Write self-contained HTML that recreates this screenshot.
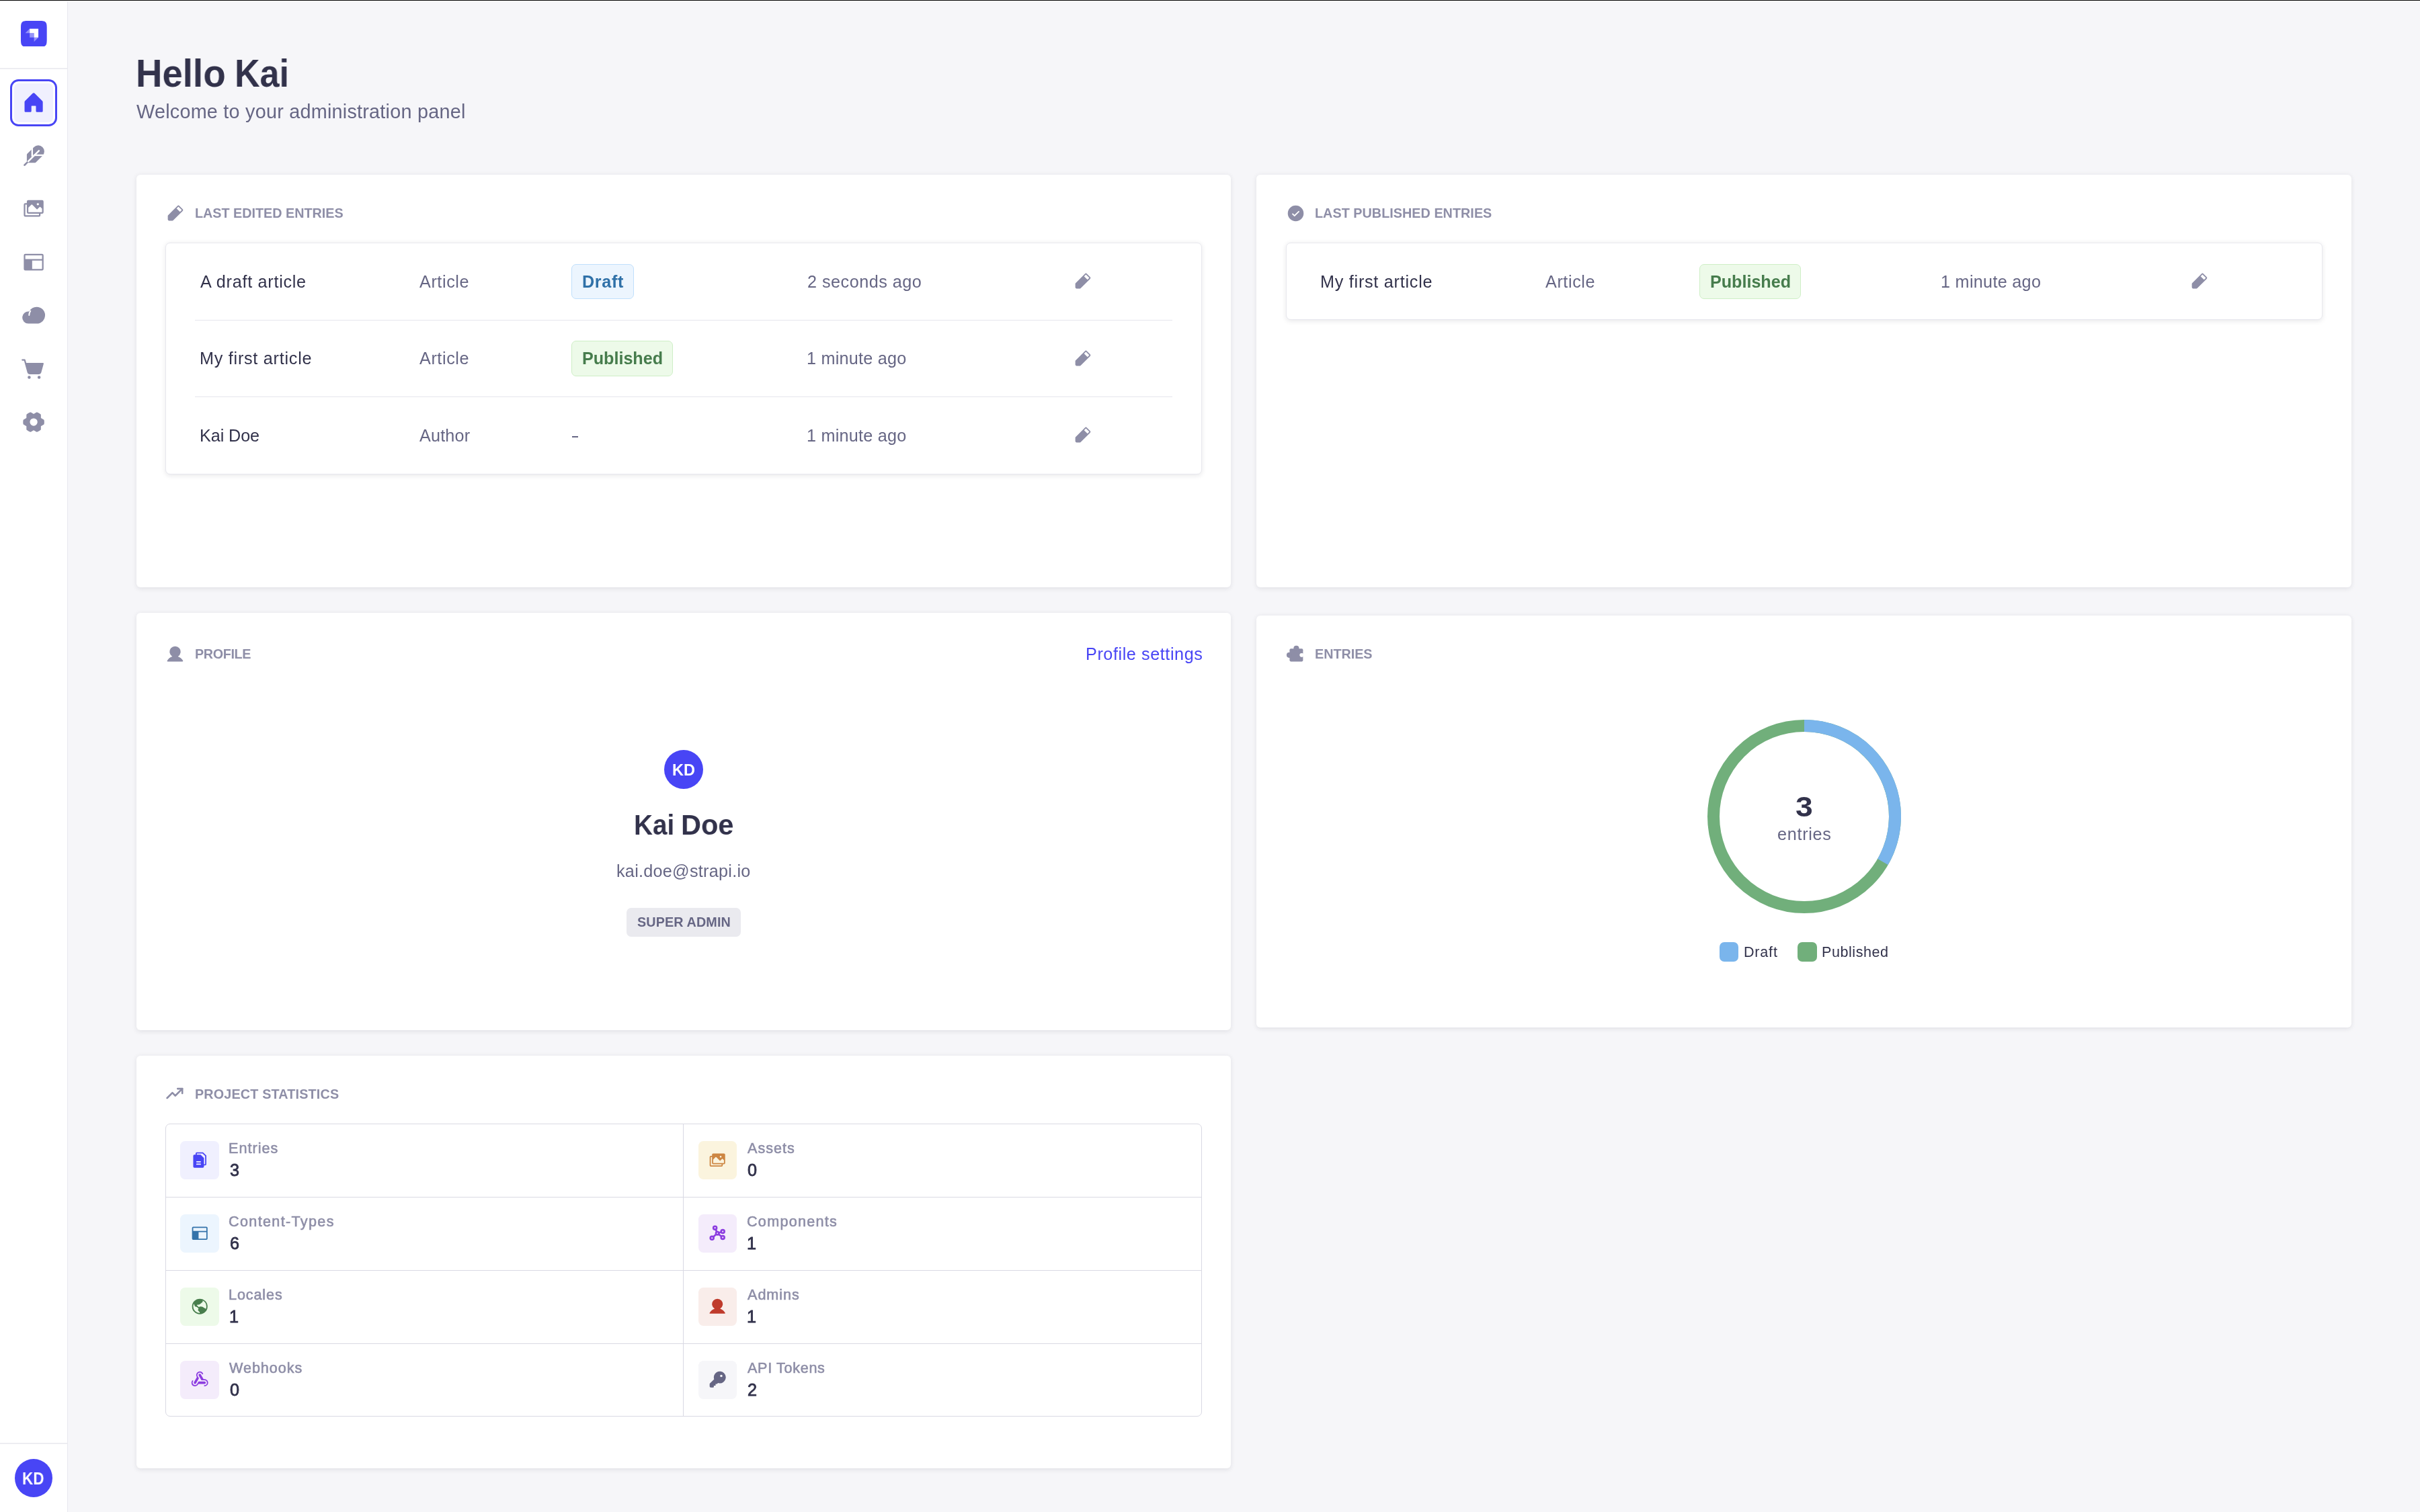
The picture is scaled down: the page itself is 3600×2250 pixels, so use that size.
<!DOCTYPE html>
<html><head><meta charset="utf-8"><title>Strapi Admin</title>
<style>
html,body{margin:0;padding:0}
body{width:3600px;height:2250px;overflow:hidden;background:#f6f6f9;position:relative;font-family:"Liberation Sans", sans-serif;}
.b{position:absolute;box-sizing:border-box;display:block}
.t{position:absolute;white-space:nowrap;line-height:1;font-family:"Liberation Sans", sans-serif;will-change:transform;-webkit-font-smoothing:antialiased;}
.card{background:#fff;border-radius:6px;box-shadow:0 1.8px 7.2px rgba(33,33,52,0.10)}
</style></head><body>
<div class="b" style="left:0.00px;top:0.00px;width:3600.00px;height:1.00px;background:#000;z-index:5"></div>
<div class="b" style="left:0.00px;top:1.00px;width:3600.00px;height:1.00px;background:#fff;z-index:5"></div>
<div class="b" style="left:0.00px;top:0.00px;width:100.00px;height:2250.00px;background:#fff"></div>
<div class="b" style="left:100.00px;top:0.00px;width:1.00px;height:2250.00px;background:#e9e9ef"></div>
<div class="b" style="left:0.00px;top:101.00px;width:100.00px;height:2.00px;background:#ededf2"></div>
<div class="b" style="left:0.00px;top:2147.00px;width:100.00px;height:2.00px;background:#ededf2"></div>
<svg class="b" style="left:31.10px;top:30.60px;width:38.70px;height:38.80px" viewBox="0 0 800 800" preserveAspectRatio="none"><path d="M0 277.3c0-130.7 0-196 40.6-236.700C81.200 0 146.600 0 277.300 0h245.400c130.700 0 196 0 236.700 40.600C800 81.200 800 146.600 800 277.300v245.400c0 130.700 0 196-40.600 236.700C718.800 800 653.400 800 522.700 800H277.300c-130.700 0-196 0-236.700-40.600C0 718.800 0 653.400 0 522.700z" fill="#4845f5"/>
<path d="M536 243H272.300v133.300h133.300V509.600H539V246c0-1.700-1.300-3-3-3z" fill="#fff"/>
<path d="M272 376.300h128c3.100 0 5.600 2.500 5.600 5.600v127.700H277.600c-3.100 0-5.600-2.500-5.600-5.600V376.300z" fill="#fff" opacity=".42"/>
<path d="M405.600 509.600H539L410.300 638.300c-1.800 1.800-4.700.5-4.700-2V509.600z" fill="#fff" opacity=".42"/>
<path d="M272 376.300H143.300c-2.500 0-3.800-3-2-4.700L272 243v133.300z" fill="#fff" opacity=".42"/></svg>
<div class="b" style="left:15.00px;top:118.00px;width:70.00px;height:70.00px;border:3px solid #4845f5;border-radius:12.5px;background:#fff"></div>
<div class="b" style="left:21.00px;top:124.00px;width:58.00px;height:58.00px;background:#f0f0fe;border-radius:7px"></div>
<svg class="b" style="left:31.80px;top:134.50px;width:36.20px;height:36.20px" viewBox="0 0 256 256" preserveAspectRatio="none"><path d="M224,120v96a8,8,0,0,1-8,8H160a8,8,0,0,1-8-8V164a4,4,0,0,0-4-4H108a4,4,0,0,0-4,4v52a8,8,0,0,1-8,8H40a8,8,0,0,1-8-8V120a16,16,0,0,1,4.69-11.31l80-80a16,16,0,0,1,22.62,0l80,80A16,16,0,0,1,224,120Z" fill="#4845f5"/></svg>
<svg class="b" style="left:32.10px;top:213.50px;width:36.20px;height:36.20px" viewBox="0 0 256 256" preserveAspectRatio="none"><path d="M221.28,34.75a64,64,0,0,0-90.49,0L60.69,104A15.9,15.9,0,0,0,56,115.31v73.38L26.34,218.34a8,8,0,0,0,11.32,11.32L67.32,200H140.7A15.92,15.92,0,0,0,152,195.32l0,0,69.23-70A64,64,0,0,0,221.28,34.75Z" fill="#8e8ea7"/><g stroke="#fff" stroke-width="17" fill="none"><path d="M112,36V134"/><path d="M126,120H240"/><path d="M183,73L62,194" stroke-linecap="round"/></g><path d="M26.340,218.340a8,8,0,0,0,11.320,11.320L72,195.300 60.700,184Z" fill="#8e8ea7"/></svg>
<svg class="b" style="left:31.80px;top:292.40px;width:36.20px;height:36.20px" viewBox="0 0 256 256" preserveAspectRatio="none"><path d="M216,40H72A16,16,0,0,0,56,56V72H40A16,16,0,0,0,24,88V200a16,16,0,0,0,16,16H184a16,16,0,0,0,16-16V184h16a16,16,0,0,0,16-16V56A16,16,0,0,0,216,40ZM172,72a12,12,0,1,1-12,12A12,12,0,0,1,172,72Zm12,128H40V88H56v80a16,16,0,0,0,16,16H184Zm32-32H72V120.69l30.34-30.35a8,8,0,0,1,11.32,0L163.31,140,189,114.34a8,8,0,0,1,11.31,0L216,130.07V168Z" fill="#8e8ea7"/></svg>
<svg class="b" style="left:31.80px;top:372.40px;width:36.20px;height:36.20px" viewBox="0 0 256 256" preserveAspectRatio="none"><path d="M216,40H40A16,16,0,0,0,24,56V200a16,16,0,0,0,16,16H216a16,16,0,0,0,16-16V56A16,16,0,0,0,216,40Zm0,160H112V112H216Zm0-104H40V56H216Z" fill="#8e8ea7"/></svg>
<svg class="b" style="left:31.90px;top:451.30px;width:36.20px;height:36.20px" viewBox="0 0 256 256" preserveAspectRatio="none"><path d="M160.060,40A88.100,88.100,0,0,0,81.290,88.680,64,64,0,1,0,72,216h88a88,88,0,0,0,.06-176Z" fill="#8e8ea7"/><path d="M93.700,83.300 A80,80 0 0 0 80,128" stroke="#fff" stroke-width="14" stroke-linecap="round" fill="none"/></svg>
<svg class="b" style="left:30.90px;top:530.80px;width:36.20px;height:36.20px" viewBox="0 0 256 256" preserveAspectRatio="none"><path d="M239.71,74.14l-25.64,92.28A24.06,24.06,0,0,1,191,184H92.16A24.06,24.06,0,0,1,69,166.42L33.92,40H16a8,8,0,0,1,0-16H40a8,8,0,0,1,7.71,5.86L57.19,64H232a8,8,0,0,1,7.71,10.14ZM88,200a16,16,0,1,0,16,16A16,16,0,0,0,88,200Zm104,0a16,16,0,1,0,16,16A16,16,0,0,0,192,200Z" fill="#8e8ea7"/></svg>
<svg class="b" style="left:31.90px;top:609.80px;width:36.20px;height:36.20px" viewBox="0 0 256 256" preserveAspectRatio="none"><path d="M237.94,107.21a8,8,0,0,0-3.89-5.4l-29.83-17-.12-33.62a8,8,0,0,0-2.83-6.08,111.91,111.91,0,0,0-36.72-20.67,8,8,0,0,0-6.46.59L128,41.85,97.88,25a8,8,0,0,0-6.47-.6A111.920,111.920,0,0,0,54.730,45.150a8,8,0,0,0-2.830,6.070l-.150,33.650-29.830,17a8,8,0,0,0-3.890,5.400,106.470,106.470,0,0,0,0,41.560,8,8,0,0,0,3.890,5.400l29.830,17,.120,33.630a8,8,0,0,0,2.830,6.080,111.910,111.910,0,0,0,36.720,20.670,8,8,0,0,0,6.460-.590L128,214.150,158.120,231a7.910,7.910,0,0,0,3.900,1,8.090,8.090,0,0,0,2.570-.420,112.100,112.100,0,0,0,36.680-20.730,8,8,0,0,0,2.830-6.070l.150-33.650,29.830-17a8,8,0,0,0,3.890-5.400A106.470,106.470,0,0,0,237.940,107.210ZM128,168a40,40,0,1,1,40-40A40,40,0,0,1,128,168Z" fill="#8e8ea7"/></svg>
<div class="b" style="left:22.00px;top:2171.00px;width:56.00px;height:57.00px;background:#4845f5;border-radius:50%"></div>
<span class="t" id="kd1" style="left:33.46px;top:2188.00px;font-size:25.2px;color:#fff;font-weight:700;letter-spacing:0.000px;transform-origin:0 0;transform:scaleX(0.8923);">KD</span>
<span class="t" id="h1a" style="left:202.10px;top:81.00px;font-size:57.6px;color:#32324b;font-weight:700;letter-spacing:0.000px;transform-origin:0 0;transform:scaleX(0.9489);">Hello</span>
<span class="t" id="h1b" style="left:349.04px;top:81.00px;font-size:57.6px;color:#32324b;font-weight:700;letter-spacing:0.000px;transform-origin:0 0;transform:scaleX(0.9041);">Kai</span>
<span class="t" id="sub" style="left:202.95px;top:152.00px;font-size:28.8px;color:#666684;font-weight:400;letter-spacing:0.230px;">Welcome to your administration panel</span>
<div class="b card" style="left:203px;top:260px;width:1628px;height:614px"></div>
<div class="b card" style="left:1869px;top:260px;width:1629px;height:614px"></div>
<div class="b card" style="left:203px;top:912px;width:1628px;height:621px"></div>
<div class="b card" style="left:1869px;top:916px;width:1629px;height:613px"></div>
<div class="b card" style="left:203px;top:1571px;width:1628px;height:614px"></div>
<svg class="b" style="left:245.70px;top:302.90px;width:29.00px;height:29.00px" viewBox="0 0 256 256" preserveAspectRatio="none"><path d="M227.31,73.37,182.63,28.68a16,16,0,0,0-22.63,0L36.69,152A15.86,15.86,0,0,0,32,163.31V208a16,16,0,0,0,16,16H92.69A15.86,15.86,0,0,0,104,219.31L227.31,96a16,16,0,0,0,0-22.63ZM192,108.68,147.31,64l24-24L216,84.68Z" fill="#8e8ea7"/></svg>
<span class="t" id="hA" style="left:290.15px;top:308.00px;font-size:19.8px;color:#8e8ea7;font-weight:700;letter-spacing:-0.012px;">LAST EDITED ENTRIES</span>
<svg class="b" style="left:1912.80px;top:302.80px;width:29.00px;height:29.00px" viewBox="0 0 256 256" preserveAspectRatio="none"><path d="M128,24A104,104,0,1,0,232,128,104.11,104.11,0,0,0,128,24Zm45.66,85.66-56,56a8,8,0,0,1-11.32,0l-24-24a8,8,0,0,1,11.32-11.32L112,148.69l50.34-50.35a8,8,0,0,1,11.32,11.32Z" fill="#8e8ea7"/></svg>
<span class="t" id="hB" style="left:1956.35px;top:308.00px;font-size:19.8px;color:#8e8ea7;font-weight:700;letter-spacing:0.030px;">LAST PUBLISHED ENTRIES</span>
<svg class="b" style="left:245.90px;top:958.85px;width:29.00px;height:29.00px" viewBox="0 0 256 256" preserveAspectRatio="none"><path d="M230.93,220a8,8,0,0,1-6.93,4H32a8,8,0,0,1-6.92-12c15.23-26.33,38.7-45.21,66.09-54.16a72,72,0,1,1,73.66,0c27.39,8.95,50.86,27.83,66.09,54.16A8,8,0,0,1,230.93,220Z" fill="#8e8ea7"/></svg>
<span class="t" id="hC" style="left:290.15px;top:964.00px;font-size:19.8px;color:#8e8ea7;font-weight:700;letter-spacing:-0.371px;">PROFILE</span>
<span class="t" id="ps" style="left:1614.65px;top:961.00px;font-size:25.2px;color:#4845f5;font-weight:400;letter-spacing:0.580px;">Profile settings</span>
<svg class="b" style="left:1913.20px;top:959.00px;width:29.00px;height:29.00px" viewBox="0 0 256 256" preserveAspectRatio="none"><path d="M64,56H208a16,16,0,0,1,16,16V208a16,16,0,0,1-16,16H64a16,16,0,0,1-16-16V72A16,16,0,0,1,64,56Z" fill="#8e8ea7"/><circle cx="136" cy="52" r="36" fill="#8e8ea7"/><circle cx="44" cy="140" r="36" fill="#8e8ea7"/><ellipse cx="204" cy="140" rx="24.500" ry="25" fill="#fff"/><rect x="206" y="117.500" width="20" height="45" fill="#fff"/></svg>
<span class="t" id="hD" style="left:1955.75px;top:964.00px;font-size:19.8px;color:#8e8ea7;font-weight:700;letter-spacing:-0.040px;">ENTRIES</span>
<svg class="b" style="left:245.95px;top:1614.40px;width:27.80px;height:27.80px" viewBox="0 0 256 256" preserveAspectRatio="none"><polyline points="232,56 136,152 96,112 24,184" fill="none" stroke="#8e8ea7" stroke-width="24" stroke-linecap="round" stroke-linejoin="round"/><polyline points="232,120 232,56 168,56" fill="none" stroke="#8e8ea7" stroke-width="24" stroke-linecap="round" stroke-linejoin="round"/></svg>
<span class="t" id="hE" style="left:290.15px;top:1619.00px;font-size:19.8px;color:#8e8ea7;font-weight:700;letter-spacing:0.160px;">PROJECT STATISTICS</span>
<div class="b" style="left:246.00px;top:361.00px;width:1542.00px;height:345.00px;background:#fff;border:1px solid #e8e8ee;border-radius:7px;box-shadow:0 1.8px 7.2px rgba(33,33,52,0.10)"></div>
<div class="b" style="left:1913.00px;top:361.00px;width:1542.00px;height:115.00px;background:#fff;border:1px solid #e8e8ee;border-radius:7px;box-shadow:0 1.8px 7.2px rgba(33,33,52,0.10)"></div>
<div class="b" style="left:290.00px;top:476.00px;width:1454.00px;height:1.00px;background:#e6e6ed"></div>
<div class="b" style="left:290.00px;top:590.00px;width:1454.00px;height:1.00px;background:#e6e6ed"></div>
<span class="t" id="a01" style="left:297.75px;top:407.00px;font-size:25.2px;color:#32324b;font-weight:400;letter-spacing:0.723px;">A draft article</span>
<span class="t" id="a02" style="left:624.15px;top:407.00px;font-size:25.2px;color:#666684;font-weight:400;letter-spacing:0.588px;">Article</span>
<div class="b" style="left:850.20px;top:393.00px;width:92.50px;height:52.00px;background:#ecf5fe;border:1.5px solid #c0e0fc;border-radius:7px"></div>
<span class="t" id="a0bd" style="left:866.15px;top:407.00px;font-size:25.2px;color:#3071a8;font-weight:700;letter-spacing:0.678px;">Draft</span>
<span class="t" id="a03" style="left:1200.55px;top:407.00px;font-size:25.2px;color:#666684;font-weight:400;letter-spacing:0.489px;">2 seconds ago</span>
<svg class="b" style="left:1595.75px;top:403.65px;width:29.00px;height:29.00px" viewBox="0 0 256 256" preserveAspectRatio="none"><path d="M227.31,73.37,182.63,28.68a16,16,0,0,0-22.63,0L36.69,152A15.86,15.86,0,0,0,32,163.31V208a16,16,0,0,0,16,16H92.69A15.86,15.86,0,0,0,104,219.31L227.31,96a16,16,0,0,0,0-22.63ZM192,108.68,147.31,64l24-24L216,84.68Z" fill="#8e8ea7"/></svg>
<span class="t" id="a11" style="left:297.35px;top:521.00px;font-size:25.2px;color:#32324b;font-weight:400;letter-spacing:0.745px;">My first article</span>
<span class="t" id="a12" style="left:624.15px;top:521.00px;font-size:25.2px;color:#666684;font-weight:400;letter-spacing:0.588px;">Article</span>
<div class="b" style="left:850.20px;top:507.00px;width:150.60px;height:53.00px;background:#edfae9;border:1.5px solid #ceefc6;border-radius:7px"></div>
<span class="t" id="a1bp" style="left:866.15px;top:521.00px;font-size:25.2px;color:#467c4c;font-weight:700;letter-spacing:-0.034px;">Published</span>
<span class="t" id="a13" style="left:1199.55px;top:521.00px;font-size:25.2px;color:#666684;font-weight:400;letter-spacing:0.244px;">1 minute ago</span>
<svg class="b" style="left:1595.75px;top:518.65px;width:29.00px;height:29.00px" viewBox="0 0 256 256" preserveAspectRatio="none"><path d="M227.31,73.37,182.63,28.68a16,16,0,0,0-22.63,0L36.69,152A15.86,15.86,0,0,0,32,163.31V208a16,16,0,0,0,16,16H92.69A15.86,15.86,0,0,0,104,219.31L227.31,96a16,16,0,0,0,0-22.63ZM192,108.68,147.31,64l24-24L216,84.68Z" fill="#8e8ea7"/></svg>
<span class="t" id="a21" style="left:297.35px;top:636.00px;font-size:25.2px;color:#32324b;font-weight:400;letter-spacing:-0.083px;">Kai Doe</span>
<span class="t" id="a22" style="left:624.15px;top:636.00px;font-size:25.2px;color:#666684;font-weight:400;letter-spacing:0.176px;">Author</span>
<div class="b" style="left:851.40px;top:649.20px;width:9.00px;height:2.00px;background:#666684"></div>
<span class="t" id="a23" style="left:1199.55px;top:636.00px;font-size:25.2px;color:#666684;font-weight:400;letter-spacing:0.244px;">1 minute ago</span>
<svg class="b" style="left:1595.75px;top:633.35px;width:29.00px;height:29.00px" viewBox="0 0 256 256" preserveAspectRatio="none"><path d="M227.31,73.37,182.63,28.68a16,16,0,0,0-22.63,0L36.69,152A15.86,15.86,0,0,0,32,163.31V208a16,16,0,0,0,16,16H92.69A15.86,15.86,0,0,0,104,219.31L227.31,96a16,16,0,0,0,0-22.63ZM192,108.68,147.31,64l24-24L216,84.68Z" fill="#8e8ea7"/></svg>
<span class="t" id="b01" style="left:1964.15px;top:407.00px;font-size:25.2px;color:#32324b;font-weight:400;letter-spacing:0.745px;">My first article</span>
<span class="t" id="b02" style="left:2299.35px;top:407.00px;font-size:25.2px;color:#666684;font-weight:400;letter-spacing:0.588px;">Article</span>
<div class="b" style="left:2528.30px;top:393.00px;width:150.60px;height:52.00px;background:#edfae9;border:1.5px solid #ceefc6;border-radius:7px"></div>
<span class="t" id="b0bp" style="left:2543.55px;top:407.00px;font-size:25.2px;color:#467c4c;font-weight:700;letter-spacing:-0.034px;">Published</span>
<span class="t" id="b03" style="left:2886.95px;top:407.00px;font-size:25.2px;color:#666684;font-weight:400;letter-spacing:0.298px;">1 minute ago</span>
<svg class="b" style="left:3256.70px;top:403.65px;width:29.00px;height:29.00px" viewBox="0 0 256 256" preserveAspectRatio="none"><path d="M227.31,73.37,182.63,28.68a16,16,0,0,0-22.63,0L36.69,152A15.86,15.86,0,0,0,32,163.31V208a16,16,0,0,0,16,16H92.69A15.86,15.86,0,0,0,104,219.31L227.31,96a16,16,0,0,0,0-22.63ZM192,108.68,147.31,64l24-24L216,84.68Z" fill="#8e8ea7"/></svg>
<div class="b" style="left:988.00px;top:1115.70px;width:58.20px;height:58.30px;background:#4845f5;border-radius:50%"></div>
<span class="t" id="kd2" style="left:999.99px;top:1135.00px;font-size:23.4px;color:#fff;font-weight:700;letter-spacing:0.000px;transform-origin:0 0;transform:scaleX(1.0065);">KD</span>
<span class="t" id="nm1" style="left:942.76px;top:1206.00px;font-size:43.2px;color:#32324b;font-weight:700;letter-spacing:0.000px;transform-origin:0 0;transform:scaleX(0.8955);">Kai</span>
<span class="t" id="nm2" style="left:1013.03px;top:1206.00px;font-size:43.2px;color:#32324b;font-weight:700;letter-spacing:0.000px;transform-origin:0 0;transform:scaleX(0.9612);">Doe</span>
<span class="t" id="mail" style="left:916.90px;top:1284.00px;font-size:25.2px;color:#666684;font-weight:400;letter-spacing:0.270px;">kai.doe@strapi.io</span>
<div class="b" style="left:932.00px;top:1350.80px;width:170.00px;height:43.20px;background:#eaeaef;border-radius:7px"></div>
<span class="t" id="sa" style="left:947.65px;top:1363.00px;font-size:19.8px;color:#666684;font-weight:700;letter-spacing:0.111px;">SUPER ADMIN</span>
<svg class="b" style="left:2540.00px;top:1071.00px;width:288.00px;height:288.00px" viewBox="0 0 288 288" preserveAspectRatio="none"><circle cx="144" cy="144" r="135" fill="none" stroke="#71af7b" stroke-width="18"/>
<path d="M144 9 A135 135 0 0 1 260.913 211.5" fill="none" stroke="#7ab5ec" stroke-width="18"/></svg>
<span class="t" id="d3" style="left:2670.74px;top:1179.00px;font-size:43.2px;color:#32324b;font-weight:700;letter-spacing:0.000px;transform-origin:0 0;transform:scaleX(1.0708);">3</span>
<span class="t" id="dent" style="left:2643.65px;top:1229.00px;font-size:25.2px;color:#666684;font-weight:400;letter-spacing:0.716px;">entries</span>
<div class="b" style="left:2558.00px;top:1402.00px;width:28.00px;height:29.00px;background:#7ab5ec;border-radius:7px"></div>
<span class="t" id="lg1" style="left:2593.55px;top:1406.00px;font-size:21.6px;color:#32324b;font-weight:400;letter-spacing:0.776px;">Draft</span>
<div class="b" style="left:2674.00px;top:1402.00px;width:29.00px;height:29.00px;background:#71af7b;border-radius:7px"></div>
<span class="t" id="lg2" style="left:2710.15px;top:1406.00px;font-size:21.6px;color:#32324b;font-weight:400;letter-spacing:0.533px;">Published</span>
<div class="b" style="left:246.00px;top:1672.00px;width:1542.00px;height:436.00px;background:#fff;border:1px solid #d9d9e3;border-radius:7px"></div>
<div class="b" style="left:247.00px;top:1781.00px;width:1540.00px;height:1.00px;background:#d9d9e3"></div>
<div class="b" style="left:247.00px;top:1890.00px;width:1540.00px;height:1.00px;background:#d9d9e3"></div>
<div class="b" style="left:247.00px;top:1999.00px;width:1540.00px;height:1.00px;background:#d9d9e3"></div>
<div class="b" style="left:1016.00px;top:1673.00px;width:1.00px;height:434.00px;background:#d9d9e3"></div>
<div class="b" style="left:268.10px;top:1698.00px;width:57.80px;height:57.20px;background:#f0f0fe;border-radius:7.5px"></div>
<svg class="b" style="left:282.80px;top:1712.40px;width:28.40px;height:28.40px" viewBox="0 0 256 256" preserveAspectRatio="none"><path d="M213.66,66.34l-40-40A8,8,0,0,0,168,24H88A16,16,0,0,0,72,40V56H56A16,16,0,0,0,40,72V216a16,16,0,0,0,16,16H168a16,16,0,0,0,16-16V200h16a16,16,0,0,0,16-16V72A8,8,0,0,0,213.66,66.34ZM136,192H88a8,8,0,0,1,0-16h48a8,8,0,0,1,0,16Zm0-32H88a8,8,0,0,1,0-16h48a8,8,0,0,1,0,16Zm64,24H184V104a8,8,0,0,0-2.34-5.66l-40-40A8,8,0,0,0,136,56H88V40h76.69L200,75.31Z" fill="#4845f5"/></svg>
<span class="t" id="s0l" style="left:340.35px;top:1698.00px;font-size:21.6px;color:#8e8ea7;font-weight:400;letter-spacing:1.015px;-webkit-text-stroke:0.6px #8e8ea7;">Entries</span>
<span class="t" id="s0v" style="left:342.35px;top:1729.00px;font-size:25.2px;color:#32324b;font-weight:400;letter-spacing:0.000px;-webkit-text-stroke:0.85px #32324b;">3</span>
<div class="b" style="left:1039.20px;top:1698.00px;width:56.60px;height:57.20px;background:#fbf4de;border-radius:7.5px"></div>
<svg class="b" style="left:1053.30px;top:1712.40px;width:28.40px;height:28.40px" viewBox="0 0 256 256" preserveAspectRatio="none"><path d="M216,40H72A16,16,0,0,0,56,56V72H40A16,16,0,0,0,24,88V200a16,16,0,0,0,16,16H184a16,16,0,0,0,16-16V184h16a16,16,0,0,0,16-16V56A16,16,0,0,0,216,40ZM172,72a12,12,0,1,1-12,12A12,12,0,0,1,172,72Zm12,128H40V88H56v80a16,16,0,0,0,16,16H184Zm32-32H72V120.69l30.34-30.35a8,8,0,0,1,11.32,0L163.31,140,189,114.34a8,8,0,0,1,11.31,0L216,130.07V168Z" fill="#cd8642"/></svg>
<span class="t" id="s1l" style="left:1112.15px;top:1698.00px;font-size:21.6px;color:#8e8ea7;font-weight:400;letter-spacing:0.979px;-webkit-text-stroke:0.6px #8e8ea7;">Assets</span>
<span class="t" id="s1v" style="left:1112.15px;top:1729.00px;font-size:25.2px;color:#32324b;font-weight:400;letter-spacing:0.000px;-webkit-text-stroke:0.85px #32324b;">0</span>
<div class="b" style="left:268.10px;top:1806.85px;width:57.80px;height:57.20px;background:#ecf5fe;border-radius:7.5px"></div>
<svg class="b" style="left:282.80px;top:1821.25px;width:28.40px;height:28.40px" viewBox="0 0 256 256" preserveAspectRatio="none"><path d="M216,40H40A16,16,0,0,0,24,56V200a16,16,0,0,0,16,16H216a16,16,0,0,0,16-16V56A16,16,0,0,0,216,40Zm0,160H112V112H216Zm0-104H40V56H216Z" fill="#3473aa"/></svg>
<span class="t" id="s2l" style="left:340.35px;top:1807.00px;font-size:21.6px;color:#8e8ea7;font-weight:400;letter-spacing:1.339px;-webkit-text-stroke:0.6px #8e8ea7;">Content-Types</span>
<span class="t" id="s2v" style="left:342.35px;top:1838.00px;font-size:25.2px;color:#32324b;font-weight:400;letter-spacing:0.000px;-webkit-text-stroke:0.85px #32324b;">6</span>
<div class="b" style="left:1039.20px;top:1806.85px;width:56.60px;height:57.20px;background:#f4ecfb;border-radius:7.5px"></div>
<svg class="b" style="left:1053.30px;top:1821.25px;width:28.40px;height:28.40px" viewBox="0 0 256 256" preserveAspectRatio="none"><g fill="none" stroke="#8c3de0" stroke-width="24" stroke-linecap="round" stroke-linejoin="round">
<circle cx="128" cy="128" r="20"/><circle cx="96" cy="56" r="22"/><circle cx="200" cy="104" r="22"/><circle cx="200" cy="184" r="22"/><circle cx="56" cy="192" r="22"/>
<line x1="119" y1="108" x2="106" y2="78"/><line x1="149" y1="121" x2="177" y2="112"/><line x1="145" y1="141.500" x2="181" y2="169.500"/><line x1="111.600" y1="142.600" x2="74" y2="176"/></g></svg>
<span class="t" id="s3l" style="left:1111.15px;top:1807.00px;font-size:21.6px;color:#8e8ea7;font-weight:400;letter-spacing:1.274px;-webkit-text-stroke:0.6px #8e8ea7;">Components</span>
<span class="t" id="s3v" style="left:1111.15px;top:1838.00px;font-size:25.2px;color:#32324b;font-weight:400;letter-spacing:0.000px;-webkit-text-stroke:0.85px #32324b;">1</span>
<div class="b" style="left:268.10px;top:1915.70px;width:57.80px;height:57.20px;background:#edfae9;border-radius:7.5px"></div>
<svg class="b" style="left:282.80px;top:1930.10px;width:28.40px;height:28.40px" viewBox="0 0 256 256" preserveAspectRatio="none"><path d="M128,24A104,104,0,1,0,232,128,104.11,104.11,0,0,0,128,24Zm88,104a87.62,87.62,0,0,1-6.4,32.94l-44.7-27.49a15.92,15.92,0,0,0-6.24-2.23l-22.82-3.08a16.11,16.11,0,0,0-16,7.86h-8.72l-3.8-7.86a15.91,15.91,0,0,0-11-8.67l-8-1.73L96.14,104h16.71a16.06,16.06,0,0,0,7.73-2l12.25-6.76a16.62,16.62,0,0,0,3-2.14l26.91-24.34A15.93,15.93,0,0,0,166,49.1l-.36-.65A88.11,88.11,0,0,1,216,128ZM40,128a87.53,87.53,0,0,1,8.54-37.8l11.34,30.27a16,16,0,0,0,11.62,10l21.43,4.61L96.74,143a16.09,16.09,0,0,0,14.4,9h1.48l-7.23,16.23a16,16,0,0,0,2.86,17.37l.14.14L128,205.94l-1.94,10A88.11,88.11,0,0,1,40,128Z" fill="#487e4d"/></svg>
<span class="t" id="s4l" style="left:340.35px;top:1916.00px;font-size:21.6px;color:#8e8ea7;font-weight:400;letter-spacing:0.878px;-webkit-text-stroke:0.6px #8e8ea7;">Locales</span>
<span class="t" id="s4v" style="left:341.35px;top:1947.00px;font-size:25.2px;color:#32324b;font-weight:400;letter-spacing:0.000px;-webkit-text-stroke:0.85px #32324b;">1</span>
<div class="b" style="left:1039.20px;top:1915.70px;width:56.60px;height:57.20px;background:#f9edea;border-radius:7.5px"></div>
<svg class="b" style="left:1053.30px;top:1930.10px;width:28.40px;height:28.40px" viewBox="0 0 256 256" preserveAspectRatio="none"><path d="M230.93,220a8,8,0,0,1-6.93,4H32a8,8,0,0,1-6.92-12c15.23-26.33,38.7-45.21,66.09-54.16a72,72,0,1,1,73.66,0c27.39,8.95,50.86,27.83,66.09,54.16A8,8,0,0,1,230.93,220Z" fill="#bf3b2c"/></svg>
<span class="t" id="s5l" style="left:1112.15px;top:1916.00px;font-size:21.6px;color:#8e8ea7;font-weight:400;letter-spacing:0.979px;-webkit-text-stroke:0.6px #8e8ea7;">Admins</span>
<span class="t" id="s5v" style="left:1111.15px;top:1947.00px;font-size:25.2px;color:#32324b;font-weight:400;letter-spacing:0.000px;-webkit-text-stroke:0.85px #32324b;">1</span>
<div class="b" style="left:268.10px;top:2024.55px;width:57.80px;height:57.20px;background:#f4ecfb;border-radius:7.5px"></div>
<svg class="b" style="left:282.80px;top:2038.95px;width:28.40px;height:28.40px" viewBox="0 0 256 256" preserveAspectRatio="none"><path fill="#8c3de0" d="M50.15,160,89.07,92.57l-2.24-3.88a48,48,0,1,1,85.05-44.17,8.170,8.170,0,0,1-3.190,10.400,8,8,0,0,1-11.350-3.720,32,32,0,1,0-56.770,29.300.570.570,0,0,1,.080.130l13.830,23.940a8,8,0,0,1,0,8L77.860,176a16,16,0,0,1-27.710-16Zm141-40H178.810L141.860,56a16,16,0,0,0-27.710,16l34.640,60a8,8,0,0,0,6.920,4h35.630c17.890,0,32.950,14.640,32.660,32.530A32,32,0,0,1,192.310,200a8.230,8.230,0,0,0-8.280,7.330,8,8,0,0,0,8,8.670,48.050,48.050,0,0,0,48-48.930C239.490,140.790,217.480,120,191.190,120ZM208,167.230c-.4-8.610-7.820-15.230-16.430-15.230H114.810a8,8,0,0,0-6.930,4L91.720,184h0a32,32,0,1,1-53.470-35,8.200,8.200,0,0,0-.92-11,8,8,0,0,0-11.720,1.170A47.630,47.630,0,0,0,16,167.540,48,48,0,0,0,105.550,192v0l4.620-8H192A16,16,0,0,0,208,167.230Z"/></svg>
<span class="t" id="s6l" style="left:341.35px;top:2025.00px;font-size:21.6px;color:#8e8ea7;font-weight:400;letter-spacing:0.952px;-webkit-text-stroke:0.6px #8e8ea7;">Webhooks</span>
<span class="t" id="s6v" style="left:342.35px;top:2056.00px;font-size:25.2px;color:#32324b;font-weight:400;letter-spacing:0.000px;-webkit-text-stroke:0.85px #32324b;">0</span>
<div class="b" style="left:1039.20px;top:2024.55px;width:56.60px;height:57.20px;background:#f6f6f9;border-radius:7.5px"></div>
<svg class="b" style="left:1053.30px;top:2038.95px;width:28.40px;height:28.40px" viewBox="0 0 256 256" preserveAspectRatio="none"><path d="M216.57,39.43A80,80,0,0,0,83.91,120.78L28.69,176A15.86,15.86,0,0,0,24,187.31V216a16,16,0,0,0,16,16H72a8,8,0,0,0,8-8V208H96a8,8,0,0,0,8-8V184h16a8,8,0,0,0,5.66-2.34l9.56-9.57A79.73,79.73,0,0,0,160,176h.1A80,80,0,0,0,216.57,39.43ZM180,92a16,16,0,1,1,16-16A16,16,0,0,1,180,92Z" fill="#666684"/></svg>
<span class="t" id="s7l" style="left:1112.15px;top:2025.00px;font-size:21.6px;color:#8e8ea7;font-weight:400;letter-spacing:0.675px;-webkit-text-stroke:0.6px #8e8ea7;">API Tokens</span>
<span class="t" id="s7v" style="left:1112.15px;top:2056.00px;font-size:25.2px;color:#32324b;font-weight:400;letter-spacing:0.000px;-webkit-text-stroke:0.85px #32324b;">2</span>
</body></html>
